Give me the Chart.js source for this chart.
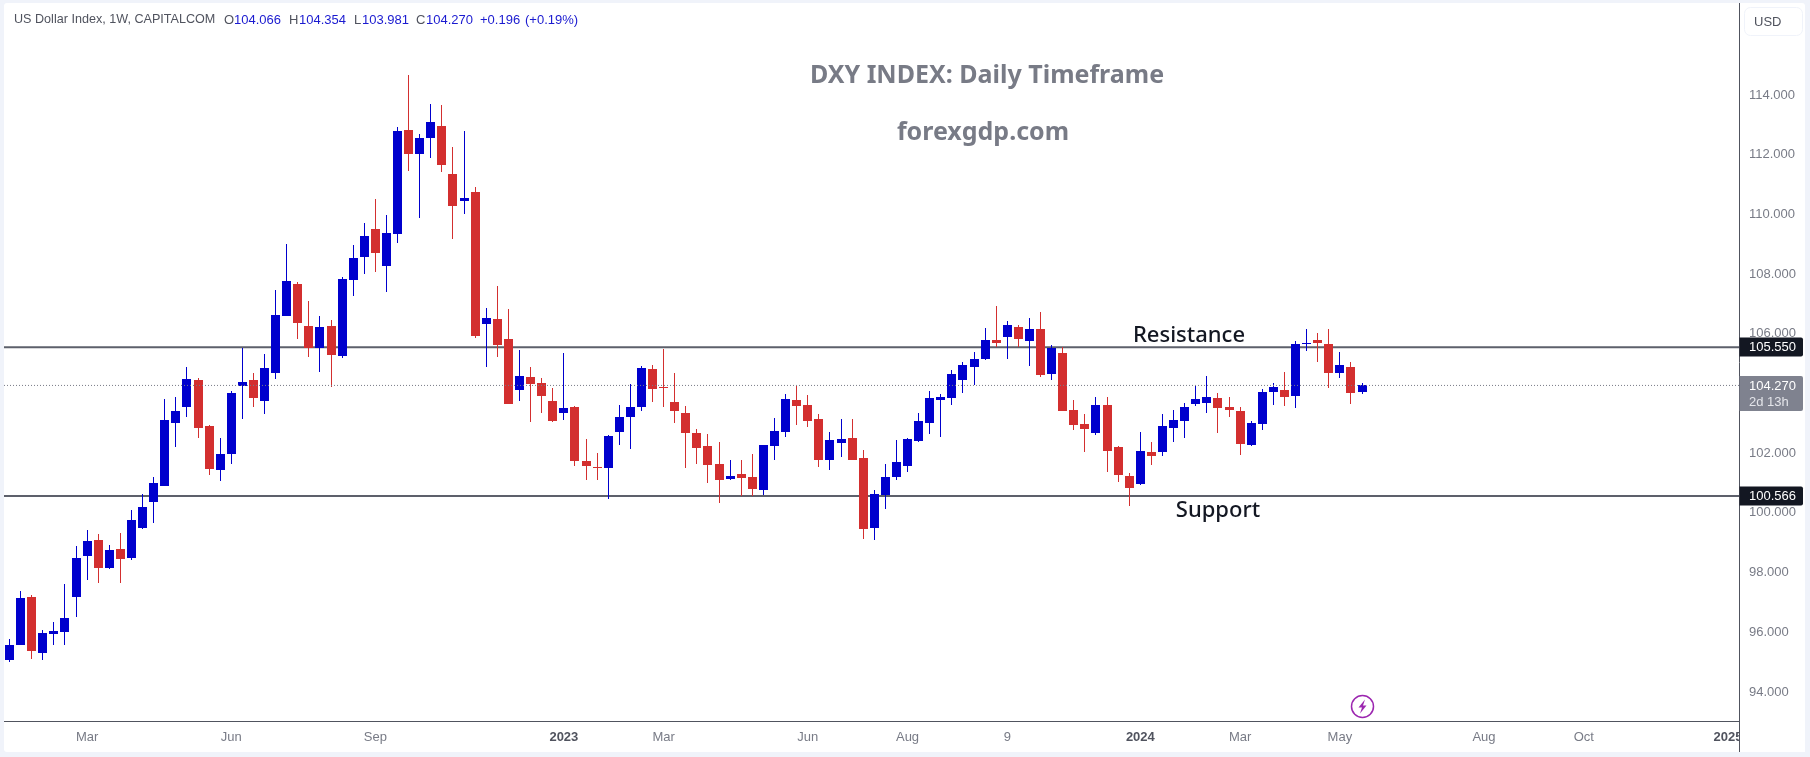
<!DOCTYPE html>
<html>
<head>
<meta charset="utf-8">
<title>DXY INDEX: Daily Timeframe</title>
<script src="https://cdn.jsdelivr.net/npm/chart.js@4"></script>
<style>
  html, body { margin: 0; padding: 0; background: #f0f3fa; }
  canvas { display: block; }
</style>
</head>
<body>
<canvas id="mycanvas" width="1810" height="757"></canvas>
<script>
// weekly candles
var opens = [95.072,95.574,97.182,95.306,95.943,96.010,97.182,98.556,99.092,98.154,
  98.790,98.489,99.494,100.365,100.901,103.012,103.547,104.453,102.911,101.437,
  101.973,104.252,104.453,103.748,104.687,106.597,107.669,106.262,105.525,106.262,
  105.257,107.803,108.573,109.511,108.272,109.344,112.828,112.024,112.560,112.962,
  111.354,110.449,110.751,106.328,106.495,105.825,104.117,104.552,104.351,103.748,
  103.346,103.547,101.738,101.537,101.504,102.710,103.212,103.547,104.820,104.217,
  103.715,103.346,102.676,102.241,101.638,101.135,101.303,101.202,100.767,102.241,
  102.710,103.782,103.614,103.145,101.772,102.341,102.509,101.839,99.494,100.599,
  101.202,101.571,102.408,103.011,103.782,103.849,104.452,104.887,105.155,105.792,
  105.892,106.227,105.758,106.160,104.653,105.356,103.447,102.978,102.676,103.614,
  102.207,101.236,100.968,102.040,102.040,102.844,103.078,103.648,103.681,103.849,
  103.547,103.413,102.274,102.978,104.050,104.117,103.916,105.658,105.792,105.658,
  104.686,104.887,104.066];
var highs = [95.775,97.383,97.249,96.077,96.345,97.618,98.891,99.427,99.293,98.924,
  99.326,100.097,100.633,101.202,103.800,103.894,104.888,104.520,102.950,102.509,
  104.084,105.525,104.687,105.324,107.468,109.009,107.736,107.099,106.597,106.463,
  107.903,108.975,109.712,110.516,109.980,112.928,114.670,112.694,113.699,113.665,
  112.258,112.794,110.918,106.864,107.601,106.830,105.457,104.887,104.519,104.184,
  105.356,103.581,102.475,102.006,102.609,103.614,104.318,104.921,104.954,105.490,
  104.686,103.581,102.810,102.643,102.375,101.772,101.772,101.973,102.280,103.179,
  103.983,104.251,103.949,103.313,102.710,103.145,103.145,102.107,100.767,101.638,
  102.442,102.509,103.346,104.083,103.983,104.787,105.055,105.390,106.200,106.930,
  106.428,106.294,106.529,106.730,105.624,105.557,103.782,103.313,103.882,103.882,
  102.241,101.336,102.710,102.375,103.313,103.447,103.681,104.251,104.586,104.016,
  103.882,103.547,103.078,104.150,104.351,104.720,105.758,106.160,106.026,106.160,
  105.390,105.055,104.354];
var lows = [95.005,95.574,95.105,95.072,95.574,95.574,96.512,97.752,97.651,98.120,
  97.651,98.422,99.460,99.661,100.901,102.207,103.212,102.509,101.269,101.068,
  101.638,103.145,103.547,103.313,104.486,106.597,105.826,105.223,104.721,104.218,
  105.190,107.267,108.004,108.071,107.401,109.042,111.454,109.880,111.890,111.421,
  109.176,110.014,105.860,104.887,105.222,103.648,103.748,103.045,103.346,103.045,
  103.112,101.571,101.102,101.102,100.465,102.274,102.140,103.413,103.715,103.547,
  103.011,101.504,101.638,101.001,100.331,101.102,100.566,100.566,100.599,101.772,
  102.542,102.944,102.877,101.537,101.437,101.872,101.772,99.125,99.092,100.130,
  101.102,101.370,102.375,102.643,102.542,103.614,104.016,104.284,105.122,105.557,
  105.155,105.557,104.921,104.552,104.452,103.413,102.777,102.040,102.609,101.370,
  101.035,100.231,100.934,101.604,101.906,102.375,102.509,103.581,103.346,102.676,
  103.212,101.939,102.241,102.777,103.614,103.581,103.514,105.423,105.055,104.184,
  104.519,103.648,103.981];
var closes = [95.574,97.149,95.373,95.976,96.043,96.479,98.489,99.058,98.154,98.757,
  98.455,99.762,100.197,101.001,103.112,103.413,104.486,102.844,101.470,101.973,
  104.017,104.386,103.850,104.855,106.630,107.769,106.362,105.525,106.228,105.290,
  107.836,108.540,109.277,108.707,109.377,112.794,112.024,112.560,113.096,111.655,
  110.282,110.550,105.927,106.529,105.624,103.648,104.586,104.318,103.916,103.078,
  103.514,101.738,101.571,101.504,102.576,103.212,103.547,104.854,104.150,104.184,
  103.413,102.676,102.174,101.604,101.102,101.236,101.169,100.800,102.274,102.743,
  103.815,103.581,103.078,101.772,102.442,102.475,101.772,99.460,100.633,101.202,
  101.705,102.475,103.078,103.849,103.882,104.653,104.954,105.155,105.792,105.691,
  106.294,105.825,106.160,104.619,105.535,103.413,102.944,102.810,103.614,102.073,
  101.269,100.834,102.073,101.906,102.911,103.112,103.547,103.815,103.882,103.514,
  103.447,102.308,103.011,104.050,104.217,103.882,105.658,105.691,105.691,104.686,
  104.954,104.016,104.270];

var xTickIndex = [7,20,33,50,59,72,81,90,102,111,120,133,142,155];
var xTickLabels = ["Mar","Jun","Sep","2023","Mar","Jun","Aug","9","2024","Mar","May","Aug","Oct","2025"];
var yTicks = [94,96,98,100,102,104,106,108,110,112,114];

var resistance = 105.550;
var support = 100.566;
var lastPrice = 104.270;
var countdown = "2d 13h";
var lastIndex = 156;

var UP = "#0000cd";
var DOWN = "#d32f2f";
var LEVEL = "#5d606b";
var MUTED = "#787b86";
var AXIS = "#50535e";
var FONT = "'Liberation Sans', Arial, sans-serif";

var bodies = [], wicks = [], colors = [];
for (var i in opens) {
  var n = Number(i);
  bodies.push({x: n, y: [opens[i], closes[i]]});
  wicks.push({x: n, y: [lows[i], highs[i]]});
  colors.push(closes[i] >= opens[i] ? UP : DOWN);
}

function level(value) {
  return [{x: -0.5, y: value}, {x: lastIndex, y: value}];
}

// keeps candle edges on whole pixels so they stay crisp
var snapCandles = {
  id: "snapCandles",
  afterDatasetsUpdate: function(chart) {
    chart.data.datasets.forEach(function(ds, d) {
      if (ds.type === "line") return;
      chart.getDatasetMeta(d).data.forEach(function(el) {
        var top = Math.round(el.y);
        var bottom = Math.round(el.base);
        if (bottom - top < 1) bottom = top + 1;
        el.x = Math.floor(el.x) + 0.5;
        el.y = top;
        el.base = bottom;
        el.height = bottom - top;
      });
    });
  }
};

var panel = {
  id: "panel",
  beforeDraw: function(chart) {
    var ctx = chart.ctx;
    ctx.save();
    ctx.fillStyle = "#f0f3fa";
    ctx.fillRect(0, 0, 1810, 757);
    ctx.fillStyle = "#ffffff";
    ctx.beginPath();
    ctx.roundRect(4, 3, 1801, 749, 3);
    ctx.fill();
    ctx.restore();
  }
};

function priceTag(ctx, y, h, color) {
  ctx.fillStyle = color;
  ctx.beginPath();
  ctx.roundRect(1739.5, y, 63.5, h, [0, 2, 2, 0]);
  ctx.fill();
}

var overlay = {
  id: "overlay",
  afterDraw: function(chart) {
    var ctx = chart.ctx;
    var y = chart.scales.y;
    ctx.save();

    // price strip runs to the bottom edge and cuts off the last time label
    ctx.fillStyle = "#ffffff";
    ctx.fillRect(1740, 722, 65, 30);
    ctx.strokeStyle = AXIS;
    ctx.lineWidth = 1;
    ctx.beginPath();
    ctx.moveTo(1739.5, 721);
    ctx.lineTo(1739.5, 752);
    ctx.stroke();

    // legend line along the top
    ctx.textBaseline = "middle";
    ctx.textAlign = "left";
    ctx.font = "12.6px " + FONT;
    ctx.fillStyle = "#50535e";
    ctx.fillText("US Dollar Index, 1W, CAPITALCOM", 14, 20);
    ctx.font = "13px " + FONT;
    var head = [
      ["O", 224, "#50535e"], ["104.066", 234, "#1a1ad0"],
      ["H", 289, "#50535e"], ["104.354", 299, "#1a1ad0"],
      ["L", 354, "#50535e"], ["103.981", 362, "#1a1ad0"],
      ["C", 416, "#50535e"], ["104.270", 426, "#1a1ad0"],
      ["+0.196", 480, "#1a1ad0"], ["(+0.19%)", 525, "#1a1ad0"]
    ];
    head.forEach(function(h) {
      ctx.fillStyle = h[2];
      ctx.fillText(h[0], h[1], 20);
    });

    // headings
    ctx.textAlign = "center";
    ctx.fillStyle = MUTED;
    ctx.font = "bold 25px 'Noto Sans', sans-serif";
    ctx.fillText("DXY INDEX: Daily Timeframe", 987, 76);
    ctx.fillText("forexgdp.com", 983, 133);

    // level captions
    ctx.fillStyle = "#131722";
    ctx.font = "500 22px 'Noto Sans', sans-serif";
    ctx.fillText("Resistance", 1189, y.getPixelForValue(resistance) - 11);
    ctx.fillText("Support", 1218, y.getPixelForValue(support) + 15);

    // price axis tags
    ctx.textAlign = "left";
    ctx.font = "13px " + FONT;
    [resistance, support].forEach(function(v) {
      var py = Math.round(y.getPixelForValue(v));
      priceTag(ctx, py - 9.5, 19, "#131722");
      ctx.fillStyle = "#ffffff";
      ctx.fillText(v.toFixed(3), 1749, py + 0.5);
    });
    var lp = Math.round(y.getPixelForValue(lastPrice));
    priceTag(ctx, lp - 9, 35, "#7f828f");
    ctx.fillStyle = "#ffffff";
    ctx.fillText(lastPrice.toFixed(3), 1749, lp + 1);
    ctx.fillStyle = "#e4e5ea";
    ctx.fillText(countdown, 1749, lp + 17);

    // currency button
    ctx.strokeStyle = "#f0f3fa";
    ctx.lineWidth = 1;
    ctx.beginPath();
    ctx.roundRect(1744.5, 7.5, 58, 28, 6);
    ctx.stroke();
    ctx.fillStyle = "#50535e";
    ctx.fillText("USD", 1754, 22);

    // dividends marker
    var mx = 1362.5, my = 706.5;
    ctx.strokeStyle = "#9c27b0";
    ctx.lineWidth = 1.5;
    ctx.beginPath();
    ctx.arc(mx, my, 11, 0, Math.PI * 2);
    ctx.stroke();
    ctx.fillStyle = "#9c27b0";
    ctx.beginPath();
    ctx.moveTo(mx + 2.5, my - 7);
    ctx.lineTo(mx - 4, my + 1);
    ctx.lineTo(mx - 0.5, my + 1);
    ctx.lineTo(mx - 2.5, my + 7);
    ctx.lineTo(mx + 4, my - 1);
    ctx.lineTo(mx + 0.5, my - 1);
    ctx.closePath();
    ctx.fill();

    ctx.restore();
  }
};

var ctx = document.getElementById("mycanvas").getContext("2d");

var Graph = new Chart(ctx, {
  type: "bar",
  data: {
    datasets: [
      {type: "line", data: level(lastPrice), borderColor: MUTED, borderWidth: 1,
        borderDash: [1, 2], pointRadius: 0, order: 0},
      {label: "body", data: bodies, backgroundColor: colors, barThickness: 9,
        grouped: false, inflateAmount: 0, borderWidth: 0, order: 1},
      {label: "wick", data: wicks, backgroundColor: colors, barThickness: 1,
        grouped: false, inflateAmount: 0, borderWidth: 0, order: 2},
      {type: "line", data: level(resistance), borderColor: LEVEL, borderWidth: 2,
        pointRadius: 0, order: 3},
      {type: "line", data: level(support), borderColor: LEVEL, borderWidth: 2,
        pointRadius: 0, order: 3}
    ]
  },
  options: {
    responsive: false,
    animation: false,
    events: [],
    layout: {autoPadding: false, padding: {left: 4, top: 3, right: 5, bottom: 5}},
    plugins: {legend: {display: false}, tooltip: {enabled: false}},
    scales: {
      x: {
        type: "linear",
        offset: false,
        min: -0.5,
        max: lastIndex,
        grid: {display: false, drawTicks: false},
        border: {display: true, color: AXIS, width: 1},
        afterBuildTicks: function(scale) {
          scale.ticks = xTickIndex.map(function(v) { return {value: v}; });
        },
        afterFit: function(scale) {
          scale.height = 31;
          scale.paddingLeft = 0;
          scale.paddingRight = 0;
        },
        ticks: {
          autoSkip: false,
          maxRotation: 0,
          padding: 9,
          callback: function(v) { return xTickLabels[xTickIndex.indexOf(v)]; },
          color: function(c) {
            return /^20/.test(xTickLabels[c.index]) ? "#50535e" : MUTED;
          },
          font: function(c) {
            return {family: FONT, size: 13, weight: /^20/.test(xTickLabels[c.index]) ? "bold" : "normal"};
          }
        }
      },
      y: {
        type: "linear",
        position: "right",
        min: 93.03,
        max: 117.08,
        grid: {display: false, drawTicks: false},
        border: {display: true, color: AXIS, width: 1},
        afterBuildTicks: function(scale) {
          scale.ticks = yTicks.map(function(v) { return {value: v}; });
        },
        afterFit: function(scale) {
          scale.width = 66;
          scale.paddingTop = 0;
          scale.paddingBottom = 0;
        },
        ticks: {
          padding: 10,
          color: MUTED,
          font: {family: FONT, size: 13},
          callback: function(v) { return v.toFixed(3); }
        }
      }
    }
  },
  plugins: [panel, snapCandles, overlay]
});
</script>
</body>
</html>
